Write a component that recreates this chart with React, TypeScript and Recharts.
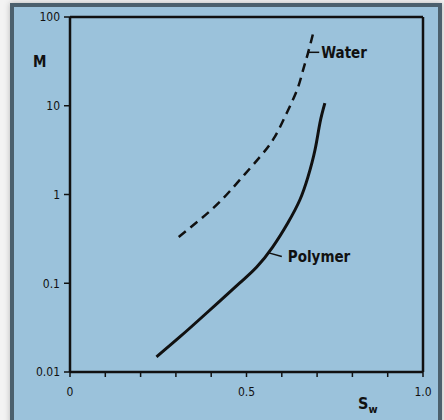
import React from 'react';
import {
  LineChart, Line, XAxis, YAxis, ReferenceLine, ReferenceDot,
} from 'recharts';

// (Sw on x, mobility ratio M on log y)
const waterSw = [0.308, 0.367, 0.424, 0.481, 0.538, 0.58, 0.614, 0.643, 0.66, 0.674, 0.691];
const waterM = [0.332, 0.516, 0.824, 1.46, 2.65, 4.45, 8.3, 15, 25, 39, 71];

const polymerSw = [0.245, 0.311, 0.387, 0.481, 0.529, 0.574, 0.617, 0.651, 0.674, 0.694, 0.708, 0.722];
const polymerM = [0.0148, 0.0248, 0.0462, 0.1007, 0.152, 0.256, 0.478, 0.867, 1.57, 3.17, 6.4, 10.7];

const xTicks = [0, 0.1, 0.2, 0.3, 0.4, 0.5, 0.6, 0.7, 0.8, 0.9, 1.0];
const xTickLabels: Record<string, string> = { '0': '0', '0.5': '0.5', '1': '1.0' };
const yTicks = [0.01, 0.1, 1, 10, 100];
const yTickLabels = ['0.01', '0.1', '1', '10', '100'];

const waterData = waterSw.map((sw, i) => ({ sw, m: waterM[i] }));
const polymerData = polymerSw.map((sw, i) => ({ sw, m: polymerM[i] }));

const FONT = '"DejaVu Sans Condensed", "Liberation Sans", sans-serif';
const INK = '#111';

export default function App() {
  return (
    <div style={{ position: 'fixed', left: 0, top: 0, width: 444, height: 420, background: '#f3f3f3', overflow: 'hidden' }}>
      <div
        style={{
          position: 'absolute', left: 10, top: 3, width: 424, height: 430,
          border: '4px solid #4b606d', background: '#9bc2db',
          boxShadow: '0 0 6px rgba(0,0,0,0.25)',
        }}
      />
      <div style={{ position: 'absolute', left: 0, top: 0 }}>
        <LineChart width={444} height={420} margin={{ top: 17, right: 21, bottom: 18, left: 30 }}>
          <XAxis
            type="number"
            dataKey="sw"
            domain={[0, 1]}
            ticks={xTicks}
            interval={0}
            tickFormatter={(v: number) => xTickLabels[String(v)] ?? ''}
            axisLine={{ stroke: INK, strokeWidth: 2.5 }}
            tickLine={{ stroke: INK, strokeWidth: 1.5 }}
            tickSize={5}
            tickMargin={10}
            height={30}
            tick={{ fill: INK, fontSize: 12, fontFamily: FONT }}
          />
          <YAxis
            type="number"
            dataKey="m"
            scale="log"
            domain={[0.01, 100]}
            ticks={yTicks}
            interval={0}
            allowDataOverflow
            tickFormatter={(v: number) => yTickLabels[yTicks.indexOf(v)] ?? ''}
            axisLine={{ stroke: INK, strokeWidth: 2.5 }}
            tickLine={{ stroke: INK, strokeWidth: 1.5 }}
            tickSize={6}
            tickMargin={4}
            width={40}
            tick={{ fill: INK, fontSize: 12, fontFamily: FONT }}
          />
          <ReferenceLine y={100} stroke={INK} strokeWidth={2.5} />
          <ReferenceLine x={1} stroke={INK} strokeWidth={2.5} />

          <Line
            data={waterData}
            dataKey="m"
            type="natural"
            stroke={INK}
            strokeWidth={2.5}
            strokeDasharray="9 6"
            dot={false}
            isAnimationActive={false}
          />
          <Line
            data={polymerData}
            dataKey="m"
            type="natural"
            stroke={INK}
            strokeWidth={3}
            dot={false}
            isAnimationActive={false}
          />

          <ReferenceLine
            segment={[{ x: 0.672, y: 40 }, { x: 0.706, y: 40 }]}
            stroke={INK}
            strokeWidth={1.5}
          />
          <ReferenceLine
            segment={[{ x: 0.563, y: 0.22 }, { x: 0.6, y: 0.2 }]}
            stroke={INK}
            strokeWidth={1.5}
          />
          <ReferenceDot
            x={0.706}
            y={40}
            r={0}
            fill="none"
            stroke="none"
            label={{ value: 'Water', position: 'right', offset: 2, fill: INK, fontSize: 15, fontWeight: 'bold', fontFamily: FONT }}
          />
          <ReferenceDot
            x={0.6}
            y={0.2}
            r={0}
            fill="none"
            stroke="none"
            label={{ value: 'Polymer', position: 'right', offset: 6, fill: INK, fontSize: 15, fontWeight: 'bold', fontFamily: FONT }}
          />
        </LineChart>
      </div>
      <div style={{ position: 'absolute', left: 33, top: 53, fontFamily: FONT, fontWeight: 'bold', fontSize: 15, color: INK }}>M</div>
      <div style={{ position: 'absolute', left: 358, top: 394, fontFamily: FONT, fontWeight: 'bold', fontSize: 16, color: INK }}>
        S<sub style={{ fontSize: 11 }}>w</sub>
      </div>
    </div>
  );
}
